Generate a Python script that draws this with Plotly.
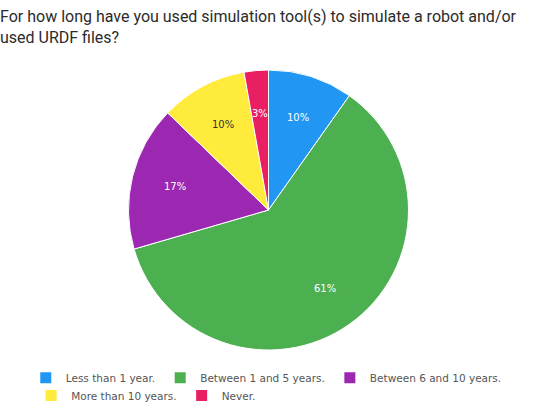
import math
import plotly.graph_objects as go

labels = ["Less than 1 year.", "Between 1 and 5 years.", "Between 6 and 10 years.",
          "More than 10 years.", "Never."]
values = [9.8, 60.7, 16.7, 10.0, 2.8]
colors = ["#2196F3", "#4CAF50", "#9C27B0", "#FFEB3B", "#E91E63"]
text_colors = ["white", "white", "white", "#333333", "white"]
legend_rows = ["legend", "legend", "legend", "legend2", "legend2"]
title = "For how long have you used simulation tool(s) to simulate a robot and/or<br>used URDF files?"

W, H = 537, 420
M_T, M_B = 70, 70
plot_w, plot_h = W, H - M_T - M_B
radius_px = min(plot_w, plot_h) / 2

fig = go.Figure()
fig.add_trace(go.Pie(
    labels=labels, values=values, sort=False, direction="clockwise", rotation=0,
    marker=dict(colors=colors, line=dict(color="white", width=1)),
    textinfo="none", hoverinfo="label+percent", showlegend=False,
    domain=dict(x=[0, 1], y=[0, 1]),
))

# legend entries (one per slice)
for lab, col, lg in zip(labels, colors, legend_rows):
    fig.add_trace(go.Scatter(
        x=[None], y=[None], mode="markers", name=lab, legend=lg,
        marker=dict(symbol="square", size=11, color=col, line=dict(width=0)),
        hoverinfo="skip",
    ))

# percentage labels placed along each slice bisector
total = sum(values)
cum = 0.0
for v, tc in zip(values, text_colors):
    theta = 2 * math.pi * (cum + v / 2) / total
    cum += v
    r = 0.69 * radius_px
    fig.add_annotation(
        x=0.5 + r * math.sin(theta) / plot_w,
        y=0.5 + r * math.cos(theta) / plot_h,
        xref="paper", yref="paper", xanchor="center", yanchor="middle",
        showarrow=False,
        text=f"{round(100 * v / total)}%",
        font=dict(family="DejaVu Sans", size=10, color=tc),
    )

legend_font = dict(family="DejaVu Sans", size=10.5, color="#555555")
fig.update_layout(
    width=W, height=H,
    margin=dict(l=0, r=0, t=M_T, b=M_B),
    paper_bgcolor="white", plot_bgcolor="white",
    xaxis=dict(visible=False), yaxis=dict(visible=False),
    title=dict(text=title, x=0, xref="container", xanchor="left",
               y=0.948, yanchor="top",
               font=dict(family="Roboto", size=16, color="#2b2b2b")),
    legend=dict(orientation="h", x=0.048, xanchor="left", y=-0.047, yanchor="top",
                font=legend_font, itemwidth=30, bgcolor="rgba(0,0,0,0)"),
    legend2=dict(orientation="h", x=0.058, xanchor="left", y=-0.111, yanchor="top",
                 font=legend_font, itemwidth=30, bgcolor="rgba(0,0,0,0)"),
)
fig.write_html("out.html", config={"displayModeBar": False},
               post_script="document.body.style.margin='0';")
